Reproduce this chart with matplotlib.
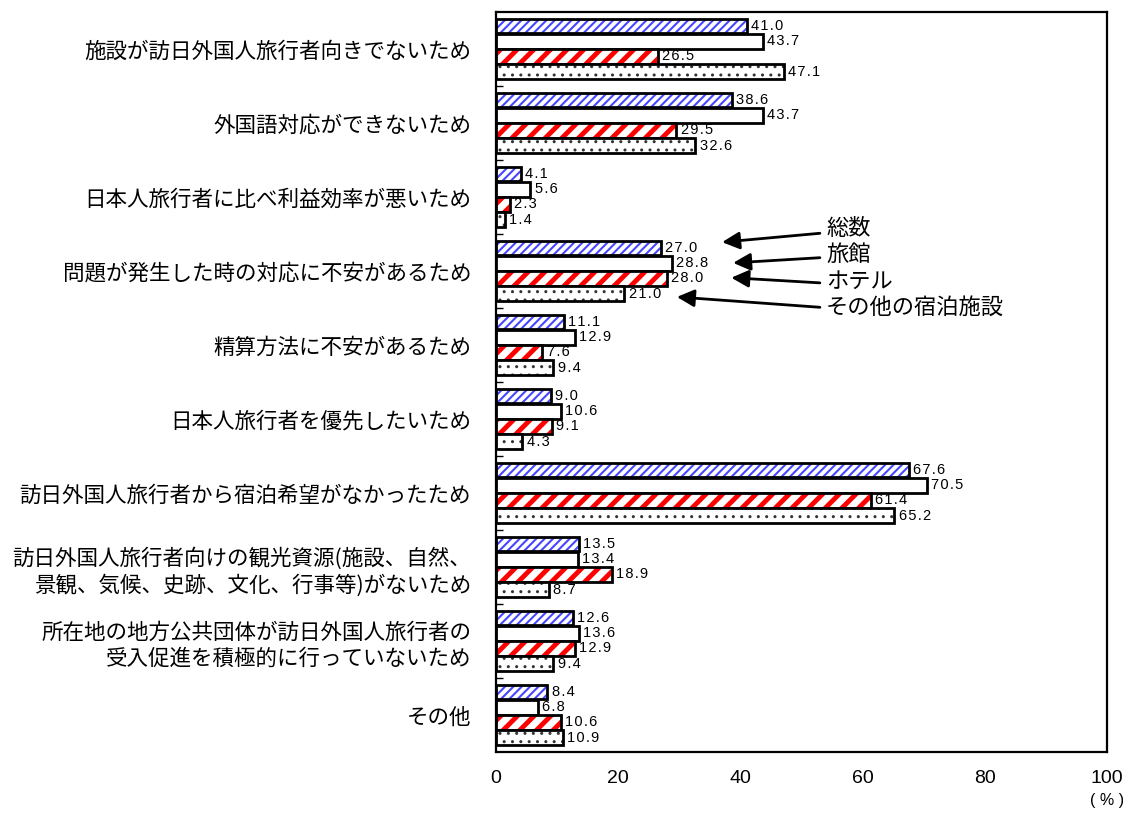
import numpy as np
import matplotlib
matplotlib.use("Agg")
import matplotlib.pyplot as plt

plt.rcParams['font.family'] = ['Noto Sans CJK JP', 'DejaVu Sans']

# data
categories = [
    "施設が訪日外国人旅行者向きでないため",
    "外国語対応ができないため",
    "日本人旅行者に比べ利益効率が悪いため",
    "問題が発生した時の対応に不安があるため",
    "精算方法に不安があるため",
    "日本人旅行者を優先したいため",
    "訪日外国人旅行者から宿泊希望がなかったため",
    "訪日外国人旅行者向けの観光資源(施設、自然、\n景観、気候、史跡、文化、行事等)がないため",
    "所在地の地方公共団体が訪日外国人旅行者の\n受入促進を積極的に行っていないため",
    "その他",
]
series_names = ["総数", "旅館", "ホテル", "その他の宿泊施設"]
soukei = [41.0, 38.6, 4.1, 27.0, 11.1, 9.0, 67.6, 13.5, 12.6, 8.4]
ryokan = [43.7, 43.7, 5.6, 28.8, 12.9, 10.6, 70.5, 13.4, 13.6, 6.8]
hotel = [26.5, 29.5, 2.3, 28.0, 7.6, 9.1, 61.4, 18.9, 12.9, 10.6]
other = [47.1, 32.6, 1.4, 21.0, 9.4, 4.3, 65.2, 8.7, 9.4, 10.9]
xticks = [0, 20, 40, 60, 80, 100]

num_font = ['Liberation Sans', 'DejaVu Sans']

fig = plt.figure(figsize=(11.23, 8.13), dpi=100)
ax = fig.add_axes([0.4417, 0.075, 0.5441, 0.9102])

n = len(categories)
centers = np.arange(n) + 0.5
offsets = [-0.31, -0.105, 0.1, 0.305]
bh = 0.2

styles = [
    dict(hatch="////", hcolor="#4646ff", hlw=1.5),
    dict(hatch=None, hcolor="white", hlw=1.0),
    dict(hatch="//", hcolor="#ff0000", hlw=3.5),
    dict(hatch="..", hcolor="#333333", hlw=1.0),
]

def spaced(v):
    # the reference uses letter-spaced digits
    return "\u200a".join(f"{v:.1f}")

for vals, off, st in zip([soukei, ryokan, hotel, other], offsets, styles):
    ys = centers + off
    if st["hatch"]:
        bars = ax.barh(ys, vals, height=bh, color="white", edgecolor=st["hcolor"],
                       hatch=st["hatch"], linewidth=0)
        for b in bars:
            if hasattr(b, "set_hatch_linewidth"):
                b.set_hatch_linewidth(st["hlw"])
    ax.barh(ys, vals, height=bh, fill=False, edgecolor="black", linewidth=2.0)
    for y, v in zip(ys, vals):
        ax.text(v + 0.7, y, spaced(v), va="center", ha="left", fontsize=10.5,
                family=num_font)

ax.set_xlim(0, 100)
ax.set_ylim(n, 0)
ax.set_xticks(xticks)
ax.set_xticklabels([str(t) for t in xticks], fontsize=14, family=num_font)
ax.tick_params(axis="x", length=0, pad=13)

ax.set_yticks(np.arange(1, n))
ax.set_yticklabels([])
ax.tick_params(axis="y", which="major", direction="in", length=5, width=1)
ax.set_yticks(centers, minor=True)
ax.set_yticklabels(categories, minor=True, fontsize=15.5, ha="right", linespacing=1.25)
ax.tick_params(axis="y", which="minor", length=0, pad=18)

for s in ax.spines.values():
    s.set_linewidth(1.6)

ax.text(1.0, -0.066, "( % )", transform=ax.transAxes, ha="center", va="center",
        fontsize=11.5, family=num_font)

# legend callouts
text_y = [2.93, 3.28, 3.64, 3.99]
tails = [(53.0, 2.99), (53.0, 3.32), (53.0, 3.66), (53.0, 3.99)]
heads = [(37.0, 3.11), (38.8, 3.39), (38.5, 3.59), (29.6, 3.85)]
for name, ty, tl, hd in zip(series_names, text_y, tails, heads):
    ax.text(54.0, ty, name, fontsize=16, va="center", ha="left")
    ax.annotate("", xy=hd, xytext=tl,
                arrowprops=dict(arrowstyle="-|>,head_length=0.7,head_width=0.35",
                                color="black", lw=2, mutation_scale=15,
                                shrinkA=0, shrinkB=0))

fig.savefig("out.png", dpi=100)
